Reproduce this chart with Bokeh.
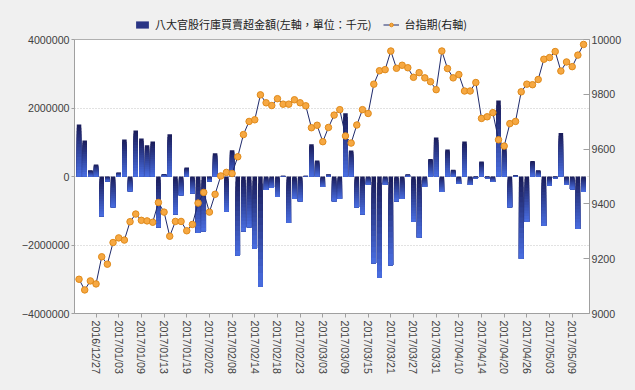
import numpy as np
from bokeh.plotting import figure
from bokeh.layouts import column
from bokeh.models import (Range1d, LinearAxis, FixedTicker, ColumnDataSource,
                          Legend, LegendItem, BasicTickFormatter, CustomJSTickFormatter)
from bokeh.embed import file_html
from bokeh.resources import INLINE

# ---- data ----
tick_labels = ["2016/12/27", "2017/01/03", "2017/01/09", "2017/01/13", "2017/01/19",
               "2017/02/02", "2017/02/08", "2017/02/14", "2017/02/18", "2017/02/23",
               "2017/03/03", "2017/03/09", "2017/03/15", "2017/03/21", "2017/03/27",
               "2017/03/31", "2017/04/10", "2017/04/14", "2017/04/20", "2017/04/26",
               "2017/05/03", "2017/05/09"]
tick_pos = [3 + 4 * i for i in range(len(tick_labels))]

bar_vals = [1520000, 1050000, 180000, 350000, -1160000, -140000, -900000, 120000, 1080000, -430000,
            1340000, 1110000, 910000, 1020000, -1480000, 70000, 1230000, -1100000, -550000, 260000,
            -490000, -1650000, -1600000, -140000, 680000, 20000, -1030000, 770000, -2310000, -1600000,
            -1480000, -2110000, -3220000, -390000, -330000, -600000, 20000, -1360000, -650000, -720000,
            20000, 940000, 470000, -310000, 60000, -720000, -650000, 1850000, 760000, -900000,
            -1100000, -230000, -2530000, -2960000, -230000, -2590000, -720000, -660000, 60000, -1320000,
            -1780000, -300000, 510000, 1140000, -450000, 790000, 200000, -220000, 1020000, -250000,
            -50000, 440000, -50000, -160000, 2220000, 860000, -900000, 30000, -2400000, -1320000,
            450000, 180000, -1440000, -270000, -50000, 1270000, -250000, -370000, -1530000, -450000]

line_vals = [9125, 9086, 9119, 9108, 9207, 9180, 9259, 9276, 9268, 9335,
             9363, 9340, 9338, 9333, 9405, 9370, 9282, 9336, 9336, 9302,
             9325, 9403, 9442, 9370, 9435, 9502, 9515, 9511, 9572, 9653,
             9701, 9707, 9798, 9769, 9759, 9784, 9764, 9764, 9780, 9769,
             9758, 9678, 9687, 9627, 9679, 9724, 9744, 9648, 9622, 9688,
             9744, 9730, 9837, 9886, 9890, 9958, 9895, 9906, 9897, 9862,
             9879, 9860, 9846, 9817, 9958, 9894, 9860, 9872, 9812, 9812,
             9843, 9712, 9718, 9733, 9634, 9611, 9693, 9701, 9809, 9837,
             9835, 9854, 9928, 9934, 9956, 9885, 9918, 9901, 9943, 9982]

bar_label = "八大官股行庫買賣超金額(左軸，單位：千元)"
line_label = "台指期(右軸)"

N = len(bar_vals)
xs = list(range(N))

BAR_MID = "#2a3585"
LINE_COL = "#1f2a6b"
MK_FILL = "#f6a842"
MK_LINE = "#e08a1a"
BG = "#f0f0f0"

# ---- gradient layers for bars (dark at top -> light at bottom) ----
K = 16
c_top = np.array([27, 30, 92])
c_bot = np.array([72, 108, 222])
lefts, rights, tops, bottoms, colors = [], [], [], [], []
bw = 0.8
for k in range(K):
    t = k / (K - 1)
    c = (c_top + (c_bot - c_top) * t).astype(int)
    col = "#%02x%02x%02x" % tuple(int(u) for u in c)
    for i, v in enumerate(bar_vals):
        hi, lo = max(v, 0), min(v, 0)
        lefts.append(i - bw / 2)
        rights.append(i + bw / 2)
        tops.append(hi + (lo - hi) * k / K)
        bottoms.append(lo)
        colors.append(col)
bar_src = ColumnDataSource(dict(left=lefts, right=rights, top=tops, bottom=bottoms, color=colors))
line_src = ColumnDataSource(dict(x=xs, y=line_vals))

FONT = "Liberation Sans"
TXT = "#404040"

p = figure(width=635, height=356, output_backend="svg", toolbar_location=None, title=None,
           x_range=Range1d(-0.8, N + 0.05), y_range=Range1d(-4000000, 4000000),
           min_border_left=74, min_border_right=46, min_border_top=5, min_border_bottom=77,
           background_fill_color="white", border_fill_color=BG,
           outline_line_color="#b0b0b0")
p.extra_y_ranges = {"right": Range1d(9000, 10000)}

p.quad(left="left", right="right", top="top", bottom="bottom", source=bar_src,
       fill_color="color", line_color=None)
p.line("x", "y", source=line_src, y_range_name="right", line_color=LINE_COL, line_width=1)
p.scatter("x", "y", source=line_src, y_range_name="right", size=6.5,
          fill_color=MK_FILL, line_color=MK_LINE, line_width=1)

# axes
p.xaxis.ticker = FixedTicker(ticks=tick_pos)
p.xaxis.formatter = CustomJSTickFormatter(args=dict(pos=tick_pos, labels=tick_labels), code="""
    const i = pos.indexOf(Math.round(tick));
    return i >= 0 ? labels[i] : "";
""")
p.xaxis.major_label_orientation = "vertical"
p.xaxis.major_tick_out = 4
p.xaxis.major_tick_in = 0
p.xaxis.minor_tick_line_color = None
p.xaxis.major_label_standoff = 3

p.yaxis.ticker = FixedTicker(ticks=[-4000000, -2000000, 0, 2000000, 4000000])
p.yaxis.formatter = BasicTickFormatter(use_scientific=False)
p.yaxis.major_tick_out = 3
p.yaxis.major_tick_in = 0
p.yaxis.minor_tick_line_color = None
p.yaxis.major_label_standoff = 2

ra = LinearAxis(y_range_name="right", ticker=FixedTicker(ticks=[9000, 9200, 9400, 9600, 9800, 10000]),
                formatter=BasicTickFormatter(use_scientific=False))
ra.major_tick_in = 6
ra.major_tick_out = 0
ra.minor_tick_line_color = None
ra.major_label_standoff = 2
p.add_layout(ra, "right")

for ax in [p.xaxis[0], p.yaxis[0], ra]:
    ax.axis_line_color = "#a0a0a0"
    ax.major_tick_line_color = "#a0a0a0"
    ax.major_label_text_font = FONT
    ax.major_label_text_font_size = "8pt"
    ax.major_label_text_color = TXT

p.xgrid.grid_line_color = None
p.ygrid.ticker = FixedTicker(ticks=[-2000000, 0, 2000000])
p.ygrid.grid_line_color = "#c4c4c4"
p.ygrid.grid_line_dash = "1 2"

# ---- legend strip above the chart ----
lf = figure(width=635, height=34, output_backend="svg", toolbar_location=None, title=None,
            x_range=Range1d(0, 1), y_range=Range1d(0, 1), x_axis_type=None, y_axis_type=None,
            min_border=0, background_fill_color=BG, border_fill_color=BG, outline_line_color=None)
lf.xgrid.visible = False
lf.ygrid.visible = False
d_bar = lf.quad(left=[-5], right=[-4], top=[-4], bottom=[-5], fill_color=BAR_MID, line_color=None)
d_line = lf.line(x=[-5, -4], y=[-5, -4], line_color=LINE_COL, line_width=1)
d_pts = lf.scatter(x=[-5], y=[-5], size=6.5, fill_color=MK_FILL, line_color=MK_LINE, line_width=1)

legend = Legend(items=[LegendItem(label=bar_label, renderers=[d_bar]),
                       LegendItem(label=line_label, renderers=[d_line, d_pts])],
                orientation="horizontal", location=(60, 2))
legend.margin = 0
legend.padding = 4
legend.spacing = 12
legend.glyph_width = 16
legend.glyph_height = 9
legend.label_standoff = 5
legend.label_text_font = "Noto Sans CJK TC"
legend.label_text_font_size = "11px"
legend.label_text_color = "#202020"
legend.border_line_color = None
legend.background_fill_alpha = 0
lf.add_layout(legend)

layout = column(lf, p, spacing=0)

html = file_html(layout, INLINE)
html = html.replace("</head>", "<style>body{background:#f0f0f0;}</style></head>")
open("out.html", "w").write(html)
